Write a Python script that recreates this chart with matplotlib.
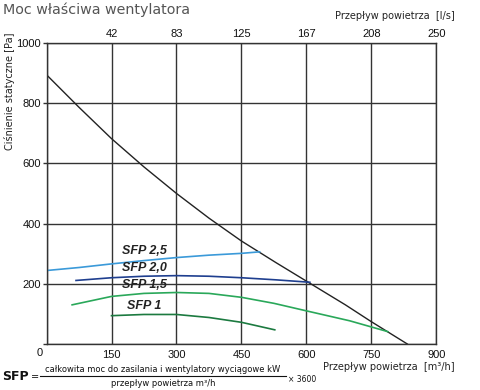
import numpy as np
import matplotlib
matplotlib.use('Agg')
import matplotlib.pyplot as plt
from matplotlib.lines import Line2D

# krzywa wentylatora
fan_x = [0, 75, 150, 225, 300, 375, 450, 530, 610, 690, 750, 833]
fan_y = [894, 786, 682, 588, 500, 418, 342, 270, 200, 130, 74, 0]

# linie SFP
sfp25_x = [0, 75, 150, 225, 300, 375, 450, 492]
sfp25_y = [244, 254, 266, 277, 287, 295, 301, 306]
sfp20_x = [68, 150, 225, 300, 375, 450, 530, 608]
sfp20_y = [211, 220, 225, 227, 225, 220, 213, 205]
sfp15_x = [59, 150, 225, 300, 375, 450, 525, 600, 700, 788]
sfp15_y = [130, 158, 168, 171, 168, 155, 135, 110, 77, 41]
sfp1_x = [150, 225, 300, 375, 450, 527]
sfp1_y = [94, 98, 98, 88, 72, 47]

sfp_labels = ['SFP 2,5', 'SFP 2,0', 'SFP 1,5', 'SFP 1']
sfp_label_x = [226, 226, 226, 226]
sfp_label_y = [309, 251, 195, 127]

x_ticks = [0, 150, 300, 450, 600, 750, 900]
y_ticks = [0, 200, 400, 600, 800, 1000]
top_labels = ['42', '83', '125', '167', '208', '250']

fig = plt.figure(figsize=(4.8, 3.9), dpi=100)
ax = fig.add_axes([0.097, 0.118, 0.812, 0.772])

grid_c = '#333333'
ax.set_xlim(0, 900)
ax.set_ylim(0, 1000)
ax.set_xticks(x_ticks)
ax.set_yticks(y_ticks)
ax.set_xticklabels([''] + [str(v) for v in x_ticks[1:]])
ax.set_yticklabels([''] + [str(v) for v in y_ticks[1:]])
ax.grid(True, color=grid_c, linewidth=1.0)
for s in ax.spines.values():
    s.set_color(grid_c)
    s.set_linewidth(1.0)
ax.tick_params(axis='x', length=0, pad=4, labelsize=8, colors='#111111')
ax.tick_params(axis='y', length=3, width=1.0, color=grid_c, pad=1, labelsize=8, labelcolor='#111111')
for lab in ax.get_xticklabels() + ax.get_yticklabels():
    lab.set_family('Liberation Sans')

ax2 = ax.twiny()
ax2.set_xlim(0, 900)
ax2.set_xticks(x_ticks[1:])
ax2.set_xticklabels(top_labels, family='Liberation Sans')
ax2.tick_params(axis='x', length=0, pad=3, labelsize=8, colors='#111111')
for s in ax2.spines.values():
    s.set_visible(False)

ax.plot(fan_x, fan_y, color='#222222', linewidth=1.0)
ax.plot(sfp25_x, sfp25_y, color='#3b9ad9', linewidth=1.2)
ax.plot(sfp20_x, sfp20_y, color='#1f3f8f', linewidth=1.2)
ax.plot(sfp15_x, sfp15_y, color='#2aa85a', linewidth=1.2)
ax.plot(sfp1_x, sfp1_y, color='#1c7a40', linewidth=1.2)

for lab, lx, ly in zip(sfp_labels, sfp_label_x, sfp_label_y):
    ax.text(lx, ly, lab, ha='center', va='center', fontsize=9,
            fontweight='bold', fontstyle='italic', color='#222222',
            family='Liberation Sans')

# opisy
fig.text(3/480, 1 - 10/390, 'Moc właściwa wentylatora', ha='left', va='center',
         fontsize=10.3, color='#555555', family='DejaVu Sans')
fig.text(455/480, 1 - 16/390, 'Przepływ powietrza  [l/s]', ha='right', va='center',
         fontsize=7, color='#222222', family='DejaVu Sans')
fig.text(455/480, 1 - 367/390, 'Przepływ powietrza  [m³/h]', ha='right', va='center',
         fontsize=7, color='#222222', family='DejaVu Sans')
fig.text(10/480, 1 - 33/390, 'Ciśnienie statyczne [Pa]', ha='center', va='top',
         rotation=90, fontsize=7, color='#222222', family='DejaVu Sans')
fig.text(40/480, 1 - 353/390, '0', ha='center', va='center', fontsize=8,
         color='#111111', family='Liberation Sans')

# wzor SFP
fig.text(2/480, 1 - 376/390, 'SFP', ha='left', va='center', fontsize=9,
         fontweight='bold', color='#111111', family='DejaVu Sans')
fig.text(35/480, 1 - 377/390, '=', ha='center', va='center', fontsize=7,
         color='#111111', family='DejaVu Sans')
fig.text(163/480, 1 - 369/390, 'całkowita moc do zasilania i wentylatory wyciągowe kW',
         ha='center', va='center', fontsize=6, color='#111111', family='DejaVu Sans')
fig.add_artist(Line2D([40/480, 286/480], [1 - 376/390, 1 - 376/390],
                      color='#111111', linewidth=0.8))
fig.text(163/480, 1 - 383/390, 'przepływ powietrza m³/h', ha='center', va='center',
         fontsize=6, color='#111111', family='DejaVu Sans')
fig.text(288/480, 1 - 379/390, '× 3600', ha='left', va='center', fontsize=5.5,
         color='#111111', family='DejaVu Sans')

fig.savefig('out.png', dpi=100)
